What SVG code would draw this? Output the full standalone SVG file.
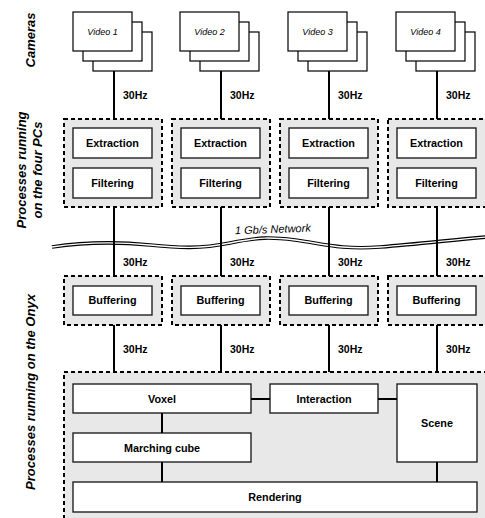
<svg xmlns="http://www.w3.org/2000/svg" width="485" height="518" viewBox="0 0 485 518">
<style>
text{font-family:"Liberation Sans",Arial,sans-serif;fill:#000}
.cam{fill:#fff;stroke:#000;stroke-width:1.2}
.grp{fill:#e8e8e8;stroke:#000;stroke-width:2;stroke-dasharray:4 3}
.box{fill:#fff;stroke:#222;stroke-width:1.4}
.lbl{font-size:10.8px;font-weight:bold;text-anchor:middle}
.hz{font-size:10.5px;font-weight:bold}
.vid{font-size:9px;font-style:italic;text-anchor:middle}
.side{font-size:13px;font-weight:bold;font-style:italic;text-anchor:middle}
.ln{stroke:#000;stroke-width:2;fill:none}
</style>
<rect width="485" height="518" fill="#fff"/>

<g id="side-labels">
<text class="side" transform="translate(35,40) rotate(-90)">Cameras</text>
<text class="side" transform="translate(26,170) rotate(-90)">Processes running</text>
<text class="side" transform="translate(42,170) rotate(-90)">on the four PCs</text>
<text class="side" transform="translate(35,392) rotate(-90)">Processes running on the Onyx</text>
</g>

<g id="cam1">
<rect class="cam" x="93" y="32" width="59" height="39"/>
<rect class="cam" x="83" y="22" width="59" height="39"/>
<rect class="cam" x="73" y="12" width="59" height="39"/>
<text class="vid" x="102.5" y="35">Video 1</text>
</g>
<g id="cam2">
<rect class="cam" x="200" y="32" width="59" height="39"/>
<rect class="cam" x="190" y="22" width="59" height="39"/>
<rect class="cam" x="180" y="12" width="59" height="39"/>
<text class="vid" x="209.5" y="35">Video 2</text>
</g>
<g id="cam3">
<rect class="cam" x="308" y="32" width="59" height="39"/>
<rect class="cam" x="298" y="22" width="59" height="39"/>
<rect class="cam" x="288" y="12" width="59" height="39"/>
<text class="vid" x="317.5" y="35">Video 3</text>
</g>
<g id="cam4">
<rect class="cam" x="416" y="32" width="59" height="39"/>
<rect class="cam" x="406" y="22" width="59" height="39"/>
<rect class="cam" x="396" y="12" width="59" height="39"/>
<text class="vid" x="425.5" y="35">Video 4</text>
</g>

<g id="network">
<path d="M52,247 C85,242 120,242 150,245 S200,249 230,243 S270,237 295,240 S340,250 380,247 S450,240 486,237" stroke="#000" stroke-width="3.6" fill="none"/>
<path d="M52,247 C85,242 120,242 150,245 S200,249 230,243 S270,237 295,240 S340,250 380,247 S450,240 486,237" stroke="#fff" stroke-width="1.4" fill="none"/>
<text x="273" y="233" font-size="11" font-style="italic" text-anchor="middle" transform="rotate(-2,273,233)">1 Gb/s Network</text>
</g>

<g id="connectors">
<path class="ln" d="M114,71V119M221,71V119M329,71V119M437,71V119"/>
<path class="ln" d="M114,207V276M221,207V276M329,207V276M437,207V276"/>
<path class="ln" d="M114,325V372M221,325V372M329,325V372M437,325V372"/>
<g class="hz">
<text x="123" y="99">30Hz</text><text x="230" y="99">30Hz</text><text x="338" y="99">30Hz</text><text x="446" y="99">30Hz</text>
<text x="123" y="266">30Hz</text><text x="230" y="266">30Hz</text><text x="338" y="266">30Hz</text><text x="446" y="266">30Hz</text>
<text x="123" y="353">30Hz</text><text x="230" y="353">30Hz</text><text x="338" y="353">30Hz</text><text x="446" y="353">30Hz</text>
</g>
</g>

<g id="pc1">
<rect class="grp" x="64" y="119" width="98" height="88"/>
<rect class="box" x="73" y="128" width="79" height="30"/><text class="lbl" x="112.5" y="147">Extraction</text>
<rect class="box" x="73" y="168" width="79" height="30"/><text class="lbl" x="112.5" y="187">Filtering</text>
</g>
<g id="pc2">
<rect class="grp" x="172" y="119" width="98" height="88"/>
<rect class="box" x="181" y="128" width="79" height="30"/><text class="lbl" x="220.5" y="147">Extraction</text>
<rect class="box" x="181" y="168" width="79" height="30"/><text class="lbl" x="220.5" y="187">Filtering</text>
</g>
<g id="pc3">
<rect class="grp" x="280" y="119" width="98" height="88"/>
<rect class="box" x="289" y="128" width="79" height="30"/><text class="lbl" x="328.5" y="147">Extraction</text>
<rect class="box" x="289" y="168" width="79" height="30"/><text class="lbl" x="328.5" y="187">Filtering</text>
</g>
<g id="pc4">
<rect class="grp" x="388" y="119" width="100" height="88"/>
<rect class="box" x="397" y="128" width="79" height="30"/><text class="lbl" x="436.5" y="147">Extraction</text>
<rect class="box" x="397" y="168" width="79" height="30"/><text class="lbl" x="436.5" y="187">Filtering</text>
</g>

<g id="buf1">
<rect class="grp" x="64" y="276" width="98" height="49"/>
<rect class="box" x="73" y="286" width="79" height="29"/><text class="lbl" x="112.5" y="304">Buffering</text>
</g>
<g id="buf2">
<rect class="grp" x="172" y="276" width="98" height="49"/>
<rect class="box" x="181" y="286" width="79" height="29"/><text class="lbl" x="220.5" y="304">Buffering</text>
</g>
<g id="buf3">
<rect class="grp" x="280" y="276" width="98" height="49"/>
<rect class="box" x="289" y="286" width="79" height="29"/><text class="lbl" x="328.5" y="304">Buffering</text>
</g>
<g id="buf4">
<rect class="grp" x="388" y="276" width="100" height="49"/>
<rect class="box" x="397" y="286" width="79" height="29"/><text class="lbl" x="436.5" y="304">Buffering</text>
</g>

<g id="onyx">
<rect class="grp" x="64" y="372" width="424" height="150"/>
</g>
<g id="voxel"><rect class="box" x="73" y="384" width="178" height="29"/><text class="lbl" x="162" y="402.5">Voxel</text></g>
<g id="interaction"><rect class="box" x="270" y="384" width="108" height="29"/><text class="lbl" x="324" y="402.5">Interaction</text></g>
<g id="scene"><rect class="box" x="397" y="384" width="80" height="78"/><text class="lbl" x="437" y="427">Scene</text></g>
<g id="marching"><rect class="box" x="73" y="433" width="178" height="29"/><text class="lbl" x="162" y="451.5">Marching cube</text></g>
<g id="rendering"><rect class="box" x="73" y="482" width="404" height="30"/><text class="lbl" x="275" y="501">Rendering</text></g>

<g id="onyx-connectors">
<path class="ln" d="M162,413V433M162,462V482M251,399H270M378,399H397M437,462V482"/>
</g>
</svg>
